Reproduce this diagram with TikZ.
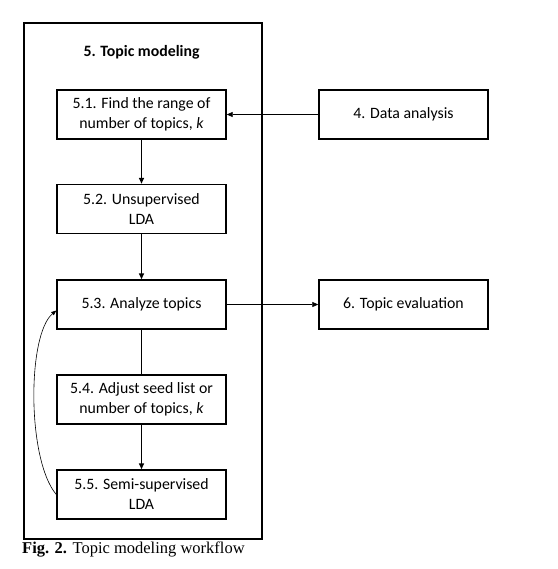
\documentclass[tikz,border=0pt]{standalone}
\usepackage{fontspec}
\setmainfont{Carlito}
\newfontfamily\capfont{Liberation Serif}
\usetikzlibrary{arrows.meta}
\begin{document}
\begin{tikzpicture}[x=1pt,y=-1pt,
  box/.style={draw, line width=1.4pt, minimum width=169pt, minimum height=49pt, align=center, inner sep=0pt, font=\fontsize{15.8}{20}\selectfont},
  flow/.style={line width=1.4pt, -{Triangle[length=6pt,width=5pt]}},
  thin/.style={line width=0.7pt, -{Triangle[length=6pt,width=5pt]}}]
\useasboundingbox (0,0) rectangle (557,569);
\node[draw, line width=1.4pt, minimum width=238pt, minimum height=516pt, inner sep=0pt] (outer) at (143,281) {};
\node[font=\bfseries\fontsize{15.8}{20}\selectfont] (title) at (141.5,52) {5. Topic modeling};
\node[box] (b51) at (141.5,114.5) {5.1. Find the range of\\number of topics, \textit{k}};
\node[box] (b52) at (141.5,209) {5.2. Unsupervised\\LDA};
\node[box] (b53) at (141.5,304.5) {5.3. Analyze topics};
\node[box] (b54) at (141.5,399.5) {5.4. Adjust seed list or\\number of topics, \textit{k}};
\node[box] (b55) at (141.5,494.5) {5.5. Semi-supervised\\LDA};
\node[box] (b4) at (403.5,114.5) {4. Data analysis};
\node[box] (b6) at (403.5,304.5) {6. Topic evaluation};
\node[anchor=west, font=\capfont\fontsize{16.5}{18}\selectfont, inner sep=0pt] (cap) at (22,550) {\textbf{Fig. 2.} Topic modeling workflow};
\draw[flow] (b51) -- (b52);
\draw[flow] (b52) -- (b53);
\draw[line width=1.4pt] (b53) -- (b54);
\draw[flow] (b54) -- (b55);
\draw[thin] (b4) -- (b51);
\draw[thin] (b53) -- (b6);
\draw[line width=0.6pt, -{Triangle[length=5pt,width=4pt]}] (b55.west) .. controls (27,460) and (27,335) .. ([yshift=-6pt]b53.west);
\end{tikzpicture}
\end{document}
